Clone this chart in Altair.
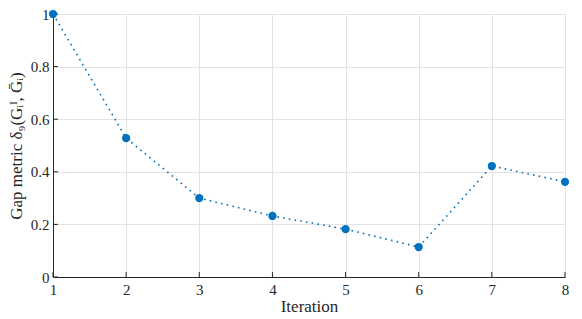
import altair as alt
import pandas as pd

iterations = [1, 2, 3, 4, 5, 6, 7, 8]
gap_values = [1.0, 0.528, 0.300, 0.232, 0.182, 0.114, 0.422, 0.362]
x_ticks = [1, 2, 3, 4, 5, 6, 7, 8]
y_ticks = [0, 0.2, 0.4, 0.6, 0.8, 1.0]

df = pd.DataFrame({"Iteration": iterations, "Gap": gap_values})
xt = pd.DataFrame({"t": x_ticks})
yt = pd.DataFrame({"t": y_ticks})

FONT = "Liberation Serif"
BLUE = "#0072BD"
W, H = 512, 263

xscale = alt.Scale(domain=[1, 8], nice=False, zero=False)
yscale = alt.Scale(domain=[0, 1], nice=False)

xaxis = alt.Axis(values=x_ticks, format="d", title="Iteration", grid=True,
                 gridColor="#e3e3e3", domainColor="#262626", ticks=False, labelFlush=False,
                 labelPadding=5, titlePadding=1, labelFontSize=15, titleFontSize=17,
                 labelFont=FONT, titleFont=FONT, labelColor="#262626", titleColor="#262626",
                 titleFontWeight="normal")
yaxis = alt.Axis(values=y_ticks, title="Gap metric  δ₉(Gᵢᴵ, Ḡᵢ)", grid=True, labelFlush=False,
                 labelExpr="datum.value == 0 ? '0' : datum.value == 1 ? '1' : format(datum.value, '.1f')",
                 gridColor="#e3e3e3", domainColor="#262626", ticks=False,
                 labelPadding=4, titlePadding=5, labelFontSize=15, titleFontSize=17,
                 labelFont=FONT, titleFont=FONT, labelColor="#262626", titleColor="#262626",
                 titleFontWeight="normal")

line = alt.Chart(df).mark_line(color=BLUE, strokeDash=[1.6, 4.2], strokeWidth=1.6).encode(
    x=alt.X("Iteration:Q", scale=xscale, axis=xaxis),
    y=alt.Y("Gap:Q", scale=yscale, axis=yaxis),
)
pts = alt.Chart(df).mark_circle(color=BLUE, size=68, opacity=1).encode(
    x=alt.X("Iteration:Q", scale=xscale),
    y=alt.Y("Gap:Q", scale=yscale),
)
xtick = alt.Chart(xt).mark_rule(color="#262626", strokeWidth=1).encode(
    x=alt.X("t:Q", scale=xscale),
    y=alt.value(H),
    y2=alt.value(H - 5),
)
ytick = alt.Chart(yt).mark_rule(color="#262626", strokeWidth=1).encode(
    y=alt.Y("t:Q", scale=yscale),
    x=alt.value(0),
    x2=alt.value(5),
)

chart = alt.layer(xtick, ytick, line, pts).properties(
    width=W, height=H,
    autosize=alt.AutoSizeParams(type="none"),
    padding={"left": 45, "top": 6, "right": 9, "bottom": 40},
).configure_view(stroke=None).configure(background="white")

chart.save("out.html", embed_options={"renderer": "svg", "actions": False})
